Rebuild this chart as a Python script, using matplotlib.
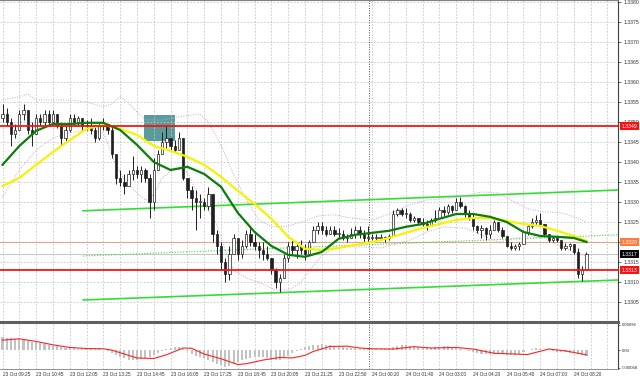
import numpy as np
import matplotlib
matplotlib.use("Agg")
import matplotlib.pyplot as plt
from matplotlib.patches import Rectangle
from matplotlib.transforms import blended_transform_factory

plt.rcParams["font.family"] = ["Liberation Sans", "DejaVu Sans"]

# --- data (prices as pips above 1.3300, one candle every 10 min) ---
base = 1.3300
time_labels = ["23 Oct 09:25", "23 Oct 10:45", "23 Oct 12:05", "23 Oct 13:25", "23 Oct 14:45",
               "23 Oct 16:05", "23 Oct 17:25", "23 Oct 18:45", "23 Oct 20:05", "23 Oct 21:25",
               "23 Oct 22:50", "24 Oct 00:20", "24 Oct 01:40", "24 Oct 03:00", "24 Oct 04:20",
               "24 Oct 05:40", "24 Oct 07:00", "24 Oct 08:20"]
label_every = 8
first_open = 51

high_pips = [54.5, 53.5, 51, 49.5, 53, 54.5, 53, 50, 52, 52,
             53, 53, 53, 51.5, 50, 49, 52, 52, 51.5, 51,
             50.5, 51, 49, 50, 51, 49.5, 49, 42, 38, 37,
             38, 41.5, 39, 39, 38.5, 37, 41, 43, 47.5, 49.25,
             46, 45.5, 47.5, 46, 36, 34, 33, 32, 31, 33.75,
             32, 23, 20, 16, 19, 22, 21, 20.5, 23, 23.75,
             22, 20, 20, 19, 16, 13.5, 12, 17, 20, 20.5,
             20, 20.5, 19.5, 20.5, 24, 25, 25, 24, 24, 24,
             23.5, 23, 22, 23.5, 24, 24, 23, 24, 22, 22,
             22, 21.5, 22, 28, 28.5, 28.5, 28.5, 27.5, 26.5, 26,
             26, 25.5, 26, 28, 28.75, 29, 29.5, 29.25, 31, 31.25,
             29.25, 28, 27.25, 24.25, 24.25, 23.75, 24.25, 25.5, 25, 23.75,
             21.5, 20, 19.5, 20, 23, 24.25, 26, 26.75, 27.25, 24.5,
             22, 21.5, 21.5, 20.5, 19.75, 19.75, 19.5, 18.5, 14, 17.5]
low_pips = [50, 49, 44, 46, 48.5, 50.5, 47, 44, 48, 49,
            49, 49, 50, 48.5, 44, 45, 47.5, 49, 49, 48,
            48, 47, 45, 45.5, 48, 47, 41, 34.5, 34, 32,
            35, 35.5, 36, 35, 35, 26, 28, 38, 42, 43.5,
            43, 42.5, 43, 35.5, 31, 28, 23, 26, 28, 28,
            20, 17, 13, 10, 10.5, 17, 15.5, 16, 18.5, 19,
            18, 16, 15.5, 15.5, 12, 8.5, 7.5, 11, 15, 17,
            16, 17, 15.5, 17, 20, 22, 22, 21.5, 22, 21.5,
            21, 20.5, 20, 21, 21, 21, 20, 20, 20.5, 20.5,
            20.5, 20, 20.5, 21.5, 26.5, 26.5, 26, 25, 25, 24.5,
            24, 23, 24, 25, 26, 26.5, 27, 27.25, 28, 28.5,
            26.25, 25.5, 23, 22.25, 21, 20.5, 21, 23, 22.5, 21,
            18.75, 18, 18, 18, 19.5, 21.75, 23.5, 24.25, 24, 21.75,
            20, 20, 20, 18, 18, 18, 17, 11, 10.25, 13]
close_pips = [52, 50, 47, 48, 52, 53, 48, 47, 51, 50,
              52, 50, 52, 49, 46, 48, 51, 50, 51, 49,
              49, 48, 46, 49, 49.5, 48, 42, 36, 35, 34,
              37, 38, 37, 38, 36, 30, 38, 42, 45, 46,
              44, 43, 46, 36, 33, 31, 30, 30, 29, 32,
              22, 19, 15, 12, 17, 21, 17, 19, 22, 20,
              19, 18, 17, 16, 13, 10, 11, 16, 19, 18,
              19, 18, 17, 20, 23, 24, 23, 22, 23, 22,
              22, 21, 21, 22, 23, 22, 21, 21, 21, 21,
              21, 21, 21.5, 27, 28, 27, 27, 25.5, 26, 25,
              24.5, 24, 25.5, 26, 28, 27.5, 29, 28, 30, 29,
              27, 26, 24, 23, 23.5, 22, 23, 25, 23, 21.5,
              19, 18.5, 19, 19.5, 22.5, 24, 25, 25.5, 24.5, 22,
              20.5, 21, 20.5, 18.5, 19, 19.5, 17.5, 12, 13, 17]

# moving averages and bands, read at every few bars
ma_idx = [0, 4, 8, 12, 16, 20, 24, 28, 32, 36, 40, 44, 48, 52, 56, 60, 64, 68,
          72, 76, 80, 84, 88, 92, 96, 100, 104, 108, 112, 116, 120, 124, 128, 132, 136, 139]
ma_fast = [1.33393, 1.3344, 1.33478, 1.33495, 1.33495, 1.33498, 1.33498, 1.3348, 1.33443,
           1.3340, 1.3338, 1.33388, 1.3337, 1.33338, 1.33273, 1.33225, 1.3319, 1.33168,
           1.33163, 1.33175, 1.33208, 1.33218, 1.33223, 1.33228, 1.33238, 1.33245, 1.33258,
           1.3327, 1.3327, 1.33263, 1.3325, 1.33225, 1.33215, 1.33213, 1.3321, 1.3320]
ma_slow = [1.3334, 1.3336, 1.33393, 1.33425, 1.33455, 1.33483, 1.33493, 1.33483, 1.33468,
           1.3344, 1.33428, 1.33413, 1.33393, 1.33363, 1.33328, 1.33295, 1.33258, 1.33213,
           1.33183, 1.3318, 1.33185, 1.33193, 1.3320, 1.3321, 1.33223, 1.33235, 1.33245,
           1.33255, 1.3326, 1.3326, 1.33253, 1.33245, 1.3324, 1.33228, 1.33215, 1.33203]
band_up_idx = [0, 4, 6, 8, 12, 16, 20, 24, 26, 28, 30, 32, 34, 38, 42, 47, 49, 52, 55, 58,
               61, 64, 68, 72, 75, 79, 83, 88, 92, 97, 101, 105, 109, 114, 118, 121, 125,
               129, 133, 137, 139]
band_up = [1.33555, 1.33563, 1.3357, 1.33555, 1.33555, 1.33555, 1.3355, 1.33538, 1.33545,
           1.33563, 1.33548, 1.33525, 1.33505, 1.33505, 1.33513, 1.3352, 1.3350, 1.33443,
           1.33368, 1.33305, 1.33255, 1.33238, 1.3324, 1.33253, 1.33265, 1.33268, 1.3326,
           1.33255, 1.3327, 1.33293, 1.33305, 1.33308, 1.33313, 1.33325, 1.33323, 1.33305,
           1.33283, 1.33275, 1.33273, 1.3326, 1.33248]
band_lo_idx = [0, 4, 8, 12, 16, 20, 24, 27, 29, 32, 34, 36, 38, 41, 44, 46, 49, 51, 53, 55,
               58, 61, 65, 68, 71, 73, 76, 78, 81, 85, 90, 93, 97, 101, 105, 110, 114, 118,
               122, 126, 129, 133, 136, 139]
band_lo = [1.33313, 1.3338, 1.3343, 1.3346, 1.33473, 1.3348, 1.33473, 1.33393, 1.33355,
           1.33323, 1.33305, 1.33318, 1.3336, 1.33385, 1.33375, 1.3333, 1.3328, 1.33243,
           1.3318, 1.3313, 1.3311, 1.3310, 1.3308, 1.3308, 1.33098, 1.3313, 1.33165, 1.3318,
           1.33188, 1.33188, 1.33185, 1.33193, 1.33205, 1.33225, 1.33238, 1.33235, 1.33218,
           1.3320, 1.3321, 1.33213, 1.3321, 1.33188, 1.33175, 1.33165]

# levels and drawn objects
level_red_hi = 1.3349
level_orange = 1.3320
level_bid = 1.3317
level_red_lo = 1.3313
channel_idx = [19.2, 146.5]
channel_upper = [1.33278, 1.3333]
channel_mid = [1.33165, 1.33218]
channel_lower = [1.33055, 1.33105]
zone_idx = [33.7, 41.1]
zone_price = [1.33453, 1.33518]
day_split = 87.3

# MACD window
macd_hist = [0.00048, 0.00047, 0.00045, 0.00044, 0.00042, 0.00038, 0.00035, 0.00032, 0.0003, 0.00027,
             0.00024, 0.0002, 0.00017, 0.00014, 0.00011, 0.00009, 0.00008, 0.00007, 0.00006, 0.00006,
             0.00006, 0.00005, 0.00004, 0.00003, 0.00002, -0.00003, -0.0001, -0.00018, -0.00025, -0.00032,
             -0.00036, -0.00038, -0.00036, -0.00033, -0.0003, -0.00028, -0.0002, -0.00012, -0.00005, 0.00003,
             0.00008, 0.0001, 0.00011, 0.00005, -0.00005, -0.00015, -0.00022, -0.00028, -0.00032, -0.00036,
             -0.00045, -0.00052, -0.00058, -0.00063, -0.0006, -0.00052, -0.00045, -0.00038, -0.00033, -0.0003,
             -0.00028, -0.00027, -0.00028, -0.00032, -0.00036, -0.00038, -0.00036, -0.0003, -0.00022, -0.00012,
             -0.00004, 0.00004, 0.0001, 0.00015, 0.00019, 0.00021, 0.00022, 0.00021, 0.00019, 0.00016,
             0.00013, 0.0001, 0.00008, 0.00007, 0.00007, 0.00006, 0.00005, 0.00004, 0.00003, 0.00003,
             0.00003, 0.00004, 0.00008, 0.00013, 0.00016, 0.00018, 0.00018, 0.00016, 0.00013, 0.0001,
             0.00008, 0.00007, 0.00009, 0.00011, 0.00013, 0.00014, 0.00015, 0.00013, 0.0001, 0.00006,
             0.00001, -0.00004, -0.00008, -0.00011, -0.00013, -0.00014, -0.00014, -0.00013, -0.00014, -0.00016,
             -0.00018, -0.00019, -0.00018, -0.00013, -0.00006, 0.00001, 0.00005, 0.00007, 0.00005, 0.00002,
             -0.00001, -0.00004, -0.00006, -0.00008, -0.00009, -0.0001, -0.00012, -0.00016, -0.0002, -0.00022]
signal_idx = [0, 4, 8, 12, 16, 20, 24, 26, 29, 32, 36, 39, 43, 45, 48, 52, 56, 58, 62, 66, 69,
              72, 74, 78, 82, 85, 88, 93, 98, 102, 108, 112, 117, 122, 125, 130, 134, 139]
signal_val = [0.00038, 0.00043, 0.00033, 0.0002, 0.0001, 0.00006, 0.00005, 0.0, -0.00015, -0.0003,
              -0.00032, -0.00018, 0.00008, 0.00007, -0.00015, -0.00033, -0.00055, -0.00052, -0.00038,
              -0.00028, -0.0003, -0.0002, -0.00005, 0.00014, 0.00015, 0.00008, 0.00005, 0.00004,
              0.00013, 0.00008, 0.0001, 0.00004, -0.00012, -0.00015, -0.00017, 0.00004, -0.00003, -0.00018]

# --- figure ---
W, H = 640, 382
fig = plt.figure(figsize=(W / 100, H / 100), dpi=100)
ax = fig.add_axes([0, 60 / H, 618 / W, 322 / H])
sub = fig.add_axes([0, 13 / H, 618 / W, 47 / H])
xlim = (-0.6, 146.5)

hi = base + np.array(high_pips) / 10000
lo = base + np.array(low_pips) / 10000
cl = base + np.array(close_pips) / 10000
op = np.concatenate([[base + first_open / 10000], cl[:-1]])
idx = np.arange(len(cl))

# grid
price_ticks = np.arange(1.3305, 1.33801, 0.0005)
ax.set_xticks(np.arange(0, 147, 4))
ax.set_yticks(price_ticks)
ax.grid(True, ls=(0, (2, 2)), color="#c4c4c4", lw=0.6, zorder=0)

ax.add_patch(Rectangle((zone_idx[0], zone_price[0]), zone_idx[1] - zone_idx[0],
                       zone_price[1] - zone_price[0], facecolor="#5a9c9c", edgecolor="none", zorder=1.5))

ax.axhline(level_bid, color="#c8c8c8", lw=0.8, zorder=1)
ax.axhline(level_orange, color="#f0906e", lw=0.8, zorder=1)
ax.axhline(level_red_hi, color="#ff1010", lw=1.3, zorder=4)
ax.axhline(level_red_lo, color="#ff1010", lw=1.3, zorder=4)

ax.plot(channel_idx, channel_upper, color="#33dd33", lw=1.2, zorder=2)
ax.plot(channel_idx, channel_lower, color="#33dd33", lw=1.2, zorder=2)
ax.plot(channel_idx, channel_mid, color="#33dd33", lw=0.8, ls=(0, (1, 1.5)), zorder=2)

# candles
lo_w = np.minimum(lo, np.minimum(op, cl))
hi_w = np.maximum(hi, np.maximum(op, cl))
ax.vlines(idx, lo_w, hi_w, color="#202020", lw=0.7, zorder=3)
up = cl >= op
body_h = np.maximum(np.abs(cl - op), 0.00002)
ax.bar(idx[up], body_h[up], bottom=op[up], width=0.55, facecolor="white",
       edgecolor="#202020", lw=0.5, zorder=3.2)
ax.bar(idx[~up], body_h[~up], bottom=cl[~up], width=0.55, facecolor="#202020",
       edgecolor="#202020", lw=0.5, zorder=3.2)

ax.plot(band_up_idx, band_up, color="#c9a0dc", lw=0.7, ls=(0, (1, 1.5)), zorder=2.5)
ax.plot(band_lo_idx, band_lo, color="#c9a0dc", lw=0.7, ls=(0, (1, 1.5)), zorder=2.5)
ax.plot(ma_idx, ma_slow, color="#f4f400", lw=1.6, zorder=3.5)
ax.plot(ma_idx, ma_fast, color="#0a7d0a", lw=1.6, zorder=3.6)

ax.axvline(day_split, color="#505050", ls=(0, (1, 1.5)), lw=0.7, zorder=1)

ax.set_xlim(*xlim)
ax.set_ylim(1.3300, 1.33805)
ax.yaxis.tick_right()
# the 1.3320 label sits under the orange tag, so leave it blank
ax.set_yticklabels(["" if abs(v - level_orange) < 1e-6 else f"{v:.4f}" for v in price_ticks])
ax.tick_params(axis="y", length=2, width=0.5, labelsize=3.7, pad=2, colors="#303030")
ax.tick_params(axis="x", length=0, labelbottom=False)
for s in ["left", "bottom"]:
    ax.spines[s].set_visible(False)
ax.spines["top"].set_color("#808080")
ax.spines["top"].set_linewidth(0.8)
ax.spines["right"].set_color("#404040")
ax.spines["right"].set_linewidth(0.8)

# right-side price tags
tr = blended_transform_factory(ax.transAxes, ax.transData)
for price, bg in [(level_red_hi, "#ff1010"), (level_orange, "#ff7a3c"),
                  (level_bid, "#000000"), (level_red_lo, "#ff1010")]:
    ax.text(1.006, price, f"{price:.4f}", transform=tr, fontsize=3.7, color="white",
            va="center", ha="left", clip_on=False, zorder=10,
            bbox=dict(facecolor=bg, edgecolor="none", pad=0.9))

# MACD
sub.bar(idx, macd_hist, width=0.5, color="#c2c2c2", zorder=2)
sub.plot(signal_idx, signal_val, color="#ff2020", lw=0.8, zorder=3)
sub.axvline(day_split, color="#505050", ls=(0, (1, 1.5)), lw=0.7, zorder=1)
sub.set_xlim(*xlim)
sub.set_ylim(-0.00072, 0.00107)
grid_ticks = np.arange(0, 147, 4)
tick_text = []
for t in grid_ticks:
    k = t // label_every
    tick_text.append(time_labels[k] if t % label_every == 0 and k < len(time_labels) else "")
sub.set_xticks(grid_ticks)
sub.set_xticklabels(tick_text, ha="left")
sub.grid(True, axis="x", ls=(0, (2, 2)), color="#c4c4c4", lw=0.6, zorder=0)
sub.tick_params(axis="x", length=0, labelsize=3.4, pad=2, colors="#303030")
sub.yaxis.tick_right()
sub.set_yticks([0.00096, 0.0, -0.00068])
sub.set_yticklabels(["0.00096", "0.00", "-0.00068"])
sub.tick_params(axis="y", length=1.5, width=0.5, labelsize=3.1, pad=1, colors="#303030")
sub.spines["left"].set_visible(False)
sub.spines["top"].set_color("#606060")
sub.spines["top"].set_linewidth(2.2)
sub.spines["right"].set_color("#404040")
sub.spines["right"].set_linewidth(0.8)
sub.spines["bottom"].set_color("#808080")
sub.spines["bottom"].set_linewidth(0.6)

fig.savefig("out.png", dpi=100)
